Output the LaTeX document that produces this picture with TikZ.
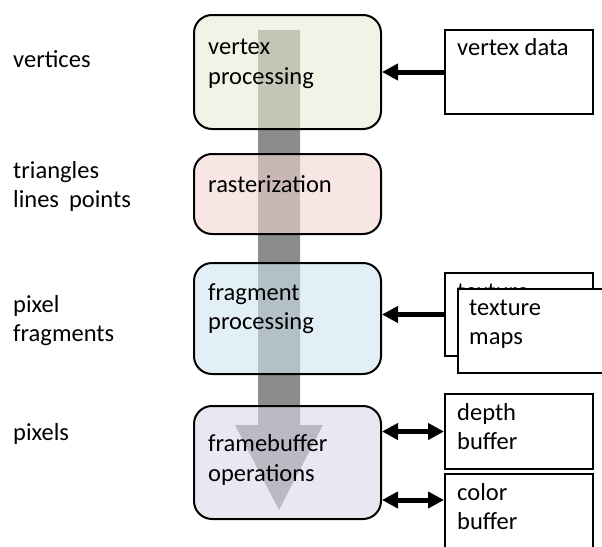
\documentclass[tikz,border=0pt]{standalone}
\usepackage{fontspec}
\setmainfont{Carlito}
\usetikzlibrary{arrows.meta}
\definecolor{vpfill}{RGB}{230,237,213}
\definecolor{rsfill}{RGB}{242,213,210}
\definecolor{fpfill}{RGB}{208,228,240}
\definecolor{fbfill}{RGB}{220,215,235}
\definecolor{flowgray}{RGB}{140,140,140}
\begin{document}
\begin{tikzpicture}[x=1pt,y=-1pt,
  stage/.style={draw=black, line width=2pt, rounded corners=18pt, fill opacity=0.6, inner sep=0pt, anchor=north west, minimum width=187pt},
  databox/.style={draw=black, line width=2pt, fill=white, inner sep=0pt, anchor=north west},
  txt/.style={anchor=base west, align=left, inner sep=0pt, font=\fontsize{24.5}{29.5}\selectfont},
  conn/.style={line width=5pt, -{Triangle[length=16pt,width=16pt]}},
  conn2/.style={line width=5pt, {Triangle[length=16pt,width=16pt]}-{Triangle[length=16pt,width=16pt]}},
]
\useasboundingbox (0,0) rectangle (602,546);
\clip (0,0) rectangle (602,546);

% big flow arrow
\fill[flowgray] (258,30) -- (300,30) -- (300,425) -- (323,425) -- (279,510) -- (235,425) -- (258,425) -- cycle;

% pipeline stages
\node[stage, fill=vpfill, minimum height=114pt] (vp) at (193,14) {};
\node[stage, fill=rsfill, minimum height=80pt] (rs) at (193,153) {};
\node[stage, fill=fpfill, minimum height=111pt] (fp) at (193,262) {};
\node[stage, fill=fbfill, minimum height=113pt] (fb) at (193,405) {};

% (base anchor = baseline of the last line)
\node[txt] (vpt) at (208,84) {vertex\\processing};
\node[txt] (rst) at (208,192) {rasterization};
\node[txt] (fpt) at (208,329.5) {fragment\\processing};
\node[txt] (fbt) at (208,481) {framebuffer\\operations};

% left labels
\node[txt] (l1) at (13,67) {vertices};
\node[txt] (l2) at (13,207.5) {triangles\\lines\hspace{10pt}points};
\node[txt] (l3) at (13,341.5) {pixel\\fragments};
\node[txt] (l4) at (13,440) {pixels};

% data boxes
\node[databox, minimum width=148pt, minimum height=84pt] (vd) at (444,29) {};
\node[txt] (vdt) at (457,55) {vertex data};

\node[databox, minimum width=148pt, minimum height=83pt] (tb) at (444,272) {};
\node[txt] (tbt) at (457,299) {texture};
\node[databox, minimum width=153pt, minimum height=84pt] (tf) at (457,288) {};
\node[txt] (tft) at (469,344.5) {texture\\maps};

\node[databox, minimum width=148pt, minimum height=75pt] (db) at (444,393) {};
\node[txt] (dbt) at (457,449.5) {depth\\buffer};
\node[databox, minimum width=148pt, minimum height=95pt] (cb) at (444,473) {};
\node[txt] (cbt) at (457,529.5) {color\\buffer};
\coordinate (cbin) at (444,500);

% connectors
\draw[conn] (vd.west) -- (vp.east |- vd.west);
\draw[conn] (tb.west) -- (fp.east |- tb.west);
\draw[conn2] (fb.east |- db.west) -- (db.west);
\draw[conn2] (fb.east |- cbin) -- (cbin);
\end{tikzpicture}
\end{document}
